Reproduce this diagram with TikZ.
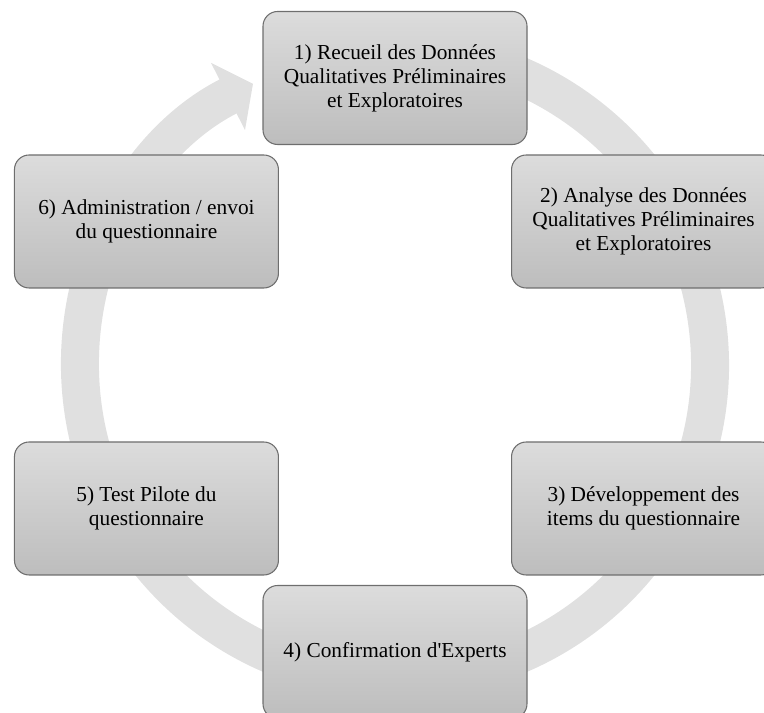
\documentclass[tikz,border=0pt]{standalone}
\usepackage{fontspec}
\setmainfont{Liberation Serif}
\usetikzlibrary{arrows.meta}

\definecolor{anneau}{HTML}{E0E0E0}
\definecolor{hautboite}{HTML}{DCDCDC}
\definecolor{basboite}{HTML}{BDBDBD}
\definecolor{bordboite}{HTML}{6E6E6E}

\tikzset{
    etape/.style={draw=bordboite, line width=0.8pt, rounded corners=11pt,
        top color=hautboite, bottom color=basboite,
        minimum width=198pt, minimum height=99.75pt, inner sep=0pt,
        align=center, font=\fontsize{16}{18}\selectfont},
    cycle/.style={draw=anneau, line width=28.5pt,
        -{Triangle[length=21pt, width=55.5pt]}}
}

\begin{document}
\begin{tikzpicture}[x=0.75pt, y=0.75pt]
    \useasboundingbox (0,0) rectangle (764,713);
    \coordinate (c) at (395,348);

    % grand cycle en fond
    \draw[cycle] ([shift={(100:315)}]c) arc[start angle=100, end angle=-243.2, radius=315];

    % les six etapes
    \node[etape] (e1) at ([shift={(90:287)}]c) {1) Recueil des Données\\Qualitatives Préliminaires\\et Exploratoires};
    \node[etape] (e2) at ([shift={(30:287)}]c) {2) Analyse des Données\\Qualitatives Préliminaires\\et Exploratoires};
    \node[etape] (e3) at ([shift={(-30:287)}]c) {3) Développement des\\items du questionnaire};
    \node[etape] (e4) at ([shift={(-90:287)}]c) {4) Confirmation d\textquotesingle Experts};
    \node[etape] (e5) at ([shift={(-150:287)}]c) {5) Test Pilote du\\questionnaire};
    \node[etape] (e6) at ([shift={(150:287)}]c) {6) Administration / envoi\\du questionnaire};

\end{tikzpicture}
\end{document}
